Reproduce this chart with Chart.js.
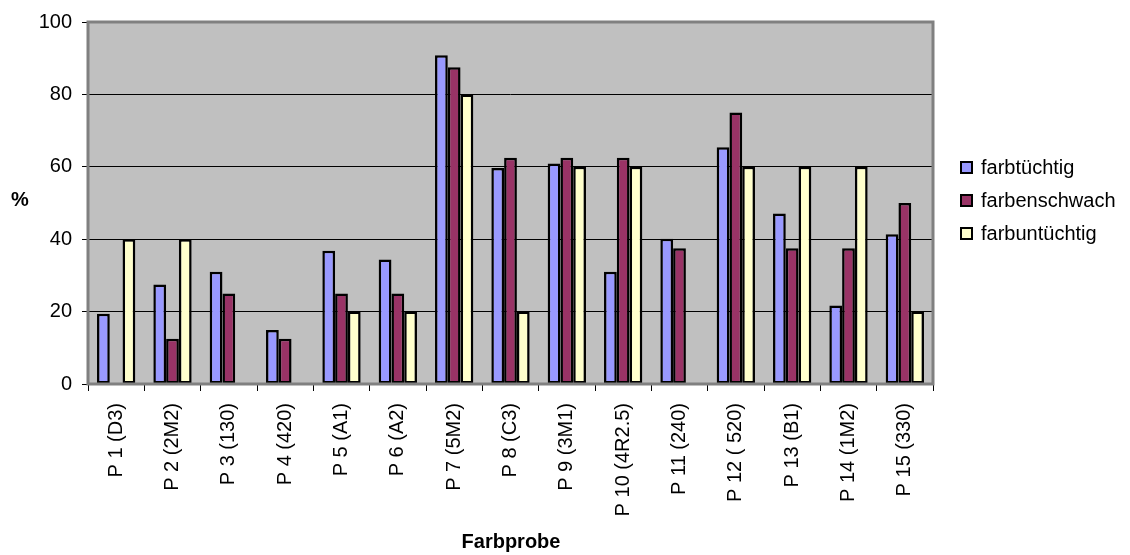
<!DOCTYPE html>
<html>
<head>
<meta charset="utf-8">
<script src="https://cdn.jsdelivr.net/npm/chart.js@4/dist/chart.umd.min.js"></script>
<style>
body { margin: 0; background: #fff; }
canvas { display: block; }
</style>
</head>
<body>
<canvas id="chart" width="1130" height="555"></canvas>
<script>
// Farbproben und Prozentwerte je Gruppe
const categories = ["P 1 (D3)", "P 2 (2M2)", "P 3 (130)", "P 4 (420)", "P 5 (A1)", "P 6 (A2)", "P 7 (5M2)", "P 8 (C3)",
  "P 9 (3M1)", "P 10 (4R2.5)", "P 11 (240)", "P 12 ( 520)", "P 13 (B1)", "P 14 (1M2)", "P 15 (330)"];
const farbtuechtig = [19.4, 27.5, 31, 14.9, 36.8, 34.4, 90.8, 59.7, 60.9, 31, 40.1, 65.4, 47.1, 21.7, 41.4];
const farbenschwach = [0, 12.5, 25, 12.5, 25, 25, 87.5, 62.5, 62.5, 62.5, 37.5, 75, 37.5, 37.5, 50];
const farbuntuechtig = [40, 40, 0, 0, 20, 20, 80, 20, 60, 60, 0, 60, 60, 60, 20];
const seriesNames = ["farbtüchtig", "farbenschwach", "farbuntüchtig"];
const seriesColors = ["#9999FF", "#993366", "#FFFFCC"];
const yTicks = [0, 20, 40, 60, 80, 100];

const FONT = "'Liberation Sans', Arial, sans-serif";

const extras = {
  id: "extras",
  beforeDraw(chart) {
    const { ctx, chartArea: a } = chart;
    ctx.save();
    ctx.fillStyle = "#C0C0C0";
    ctx.fillRect(a.left, a.top, a.right - a.left, a.bottom - a.top);
    ctx.restore();
  },
  afterDraw(chart) {
    const { ctx, chartArea: a } = chart;
    ctx.save();
    ctx.strokeStyle = "#808080";
    ctx.lineWidth = 3;
    ctx.strokeRect(a.left, a.top, a.right - a.left, a.bottom - a.top);

    // Achsentitel
    ctx.fillStyle = "#000";
    ctx.font = "bold 20px " + FONT;
    ctx.textAlign = "center";
    ctx.textBaseline = "middle";
    ctx.fillText("%", 20, 200);
    ctx.fillText("Farbprobe", 511, 542);

    // Legende
    ctx.font = "20px " + FONT;
    ctx.textAlign = "left";
    chart.data.datasets.forEach((ds, i) => {
      const y = 168 + i * 33;
      ctx.fillStyle = ds.backgroundColor;
      ctx.fillRect(961, y - 6, 11, 11);
      ctx.strokeStyle = "#000";
      ctx.lineWidth = 2;
      ctx.strokeRect(961, y - 6, 11, 11);
      ctx.fillStyle = "#000";
      ctx.fillText(ds.label, 981, y);
    });
    ctx.restore();
  }
};

const values = [farbtuechtig, farbenschwach, farbuntuechtig];

new Chart(document.getElementById("chart"), {
  type: "bar",
  data: {
    labels: categories,
    datasets: values.map((v, i) => ({
      label: seriesNames[i],
      data: v,
      backgroundColor: seriesColors[i],
      borderColor: "#000",
      borderWidth: 2.5,
      borderSkipped: false,
      categoryPercentage: 0.68,
      barPercentage: 1.0
    }))
  },
  options: {
    responsive: false,
    animation: false,
    devicePixelRatio: 1,
    layout: { padding: { top: 18, right: 197, left: 0, bottom: 0 } },
    plugins: {
      legend: { display: false },
      tooltip: { enabled: false }
    },
    scales: {
      x: {
        afterFit(scale) { scale.height = 171; },
        border: { display: false },
        grid: { display: true, drawOnChartArea: false, drawTicks: true, tickLength: 7, color: "#000", offset: true },
        ticks: {
          color: "#000",
          font: { family: FONT, size: 20 },
          minRotation: 90,
          maxRotation: 90,
          autoSkip: false,
          padding: 12
        }
      },
      y: {
        min: 0,
        max: 100,
        afterFit(scale) { scale.width = 88; },
        afterBuildTicks(scale) { scale.ticks = yTicks.map(v => ({ value: v })); },
        border: { display: false },
        grid: { color: "#000", tickLength: 6, lineWidth: 1 },
        ticks: {
          color: "#000",
          font: { family: FONT, size: 20 },
          padding: 10
        }
      }
    }
  },
  plugins: [extras]
});
</script>
</body>
</html>
